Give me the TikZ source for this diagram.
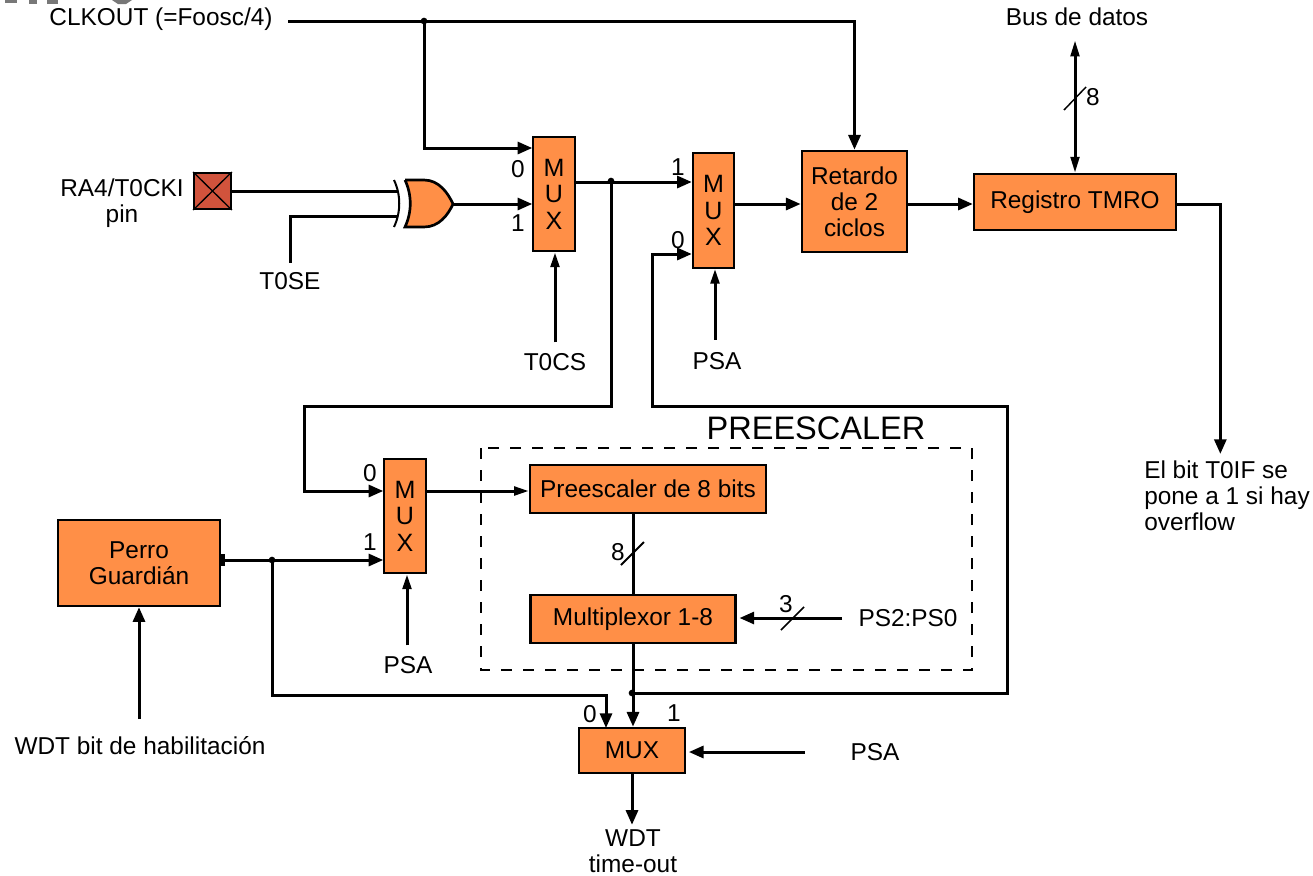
\documentclass[tikz,border=0pt]{standalone}
\usepackage{fontspec}
\setmainfont{Liberation Sans}
\usepackage{xcolor}
\usetikzlibrary{arrows.meta,positioning}
\definecolor{boxorange}{RGB}{255,143,71}
\definecolor{pinred}{RGB}{209,83,60}
\definecolor{headgray}{RGB}{120,120,120}

\begin{document}
\begin{tikzpicture}[
 x=0.75pt,y=-0.75pt,
 every node/.style={font=\fontsize{18.3}{19.5}\selectfont,align=center},
 block/.style={draw=black,fill=boxorange,line width=1.8pt,inner sep=0pt},
 muxv/.style={block,line width=1.6pt,minimum width=31pt,minimum height=86pt,font=\fontsize{18.8}{19.8}\selectfont},
 txt/.style={inner sep=3.33pt},
 dot/.style={circle,fill=black,inner sep=0pt,minimum size=5pt},
 wire/.style={line width=2.25pt},
 arrow/.style={wire,-{Triangle[length=11pt,width=9pt]}},
 narrow/.style={wire,-{Triangle[length=11pt,width=6.5pt]}},
 slash/.style={line width=1.1pt}
]
\useasboundingbox (0,0) rectangle (1313,875);
\fill[headgray] (5,0) rectangle (17,3);
\fill[headgray] (29,0) rectangle (37,4);
\fill[headgray] (47,0) rectangle (58,4);
\fill[headgray] (112,0) -- (132,0) -- (126,4) -- (118,4) -- cycle;

\draw[line width=1.9pt,dash pattern=on 8pt off 8.5pt] (481,448) rectangle (972,670);

\node[txt] (clkout) at (161,19) {CLKOUT (=Foosc/4)};
\node[txt] (ra4) at (122,203) {RA4/T0CKI\\pin};
\node[txt,outer sep=4pt] (t0se) at (290,281) {T0SE};
\node[txt,outer sep=5pt] (t0cs) at (555,362) {T0CS};
\node[txt,outer sep=6pt] (psaa) at (717,361) {PSA};
\node[txt,outer sep=5pt] (psab) at (408,665) {PSA};
\node[txt,outer sep=31pt] (psac) at (875,752) {PSA};
\node[txt,outer sep=7.5pt] (bus) at (1077,17) {Bus de datos};
\node[txt,align=left,outer sep=2pt] (t0if) at (1227,496) {El bit T0IF se\\pone a 1 si hay\\overflow};
\node[txt,outer sep=9pt] (ps2) at (908,618) {PS2:PS0};
\node[txt,outer sep=10pt] (wdten) at (140,746) {WDT bit de habilitación};
\node[txt] (wdtout) at (633,851) {WDT\\time-out};
\node[txt,font=\fontsize{24.4}{26}\selectfont] (prescaler) at (816,428) {PREESCALER};

\node[muxv] (muxa) at (554,194) {M\\U\\X};
\node[muxv] (muxb) at (713.5,210.5) {M\\U\\X};
\node[muxv] (muxc) at (405,516) {M\\U\\X};
\node[block,minimum width=79pt,minimum height=76pt] (retardo) at (854.5,201.5) {Retardo\\de 2\\ciclos};
\node[block,minimum width=151.5pt,minimum height=42pt] (tmro) at (1075,202) {Registro TMRO};
\node[block,minimum width=177pt,minimum height=36pt] (prees) at (648,489) {Preescaler de 8 bits};
\node[block,minimum width=154pt,minimum height=36pt] (multi) at (633,619) {Multiplexor 1-8};
\node[block,minimum width=121.5pt,minimum height=64.5pt] (perro) at (139,563) {Perro\\Guardián};
\node[block,minimum width=79.5pt,minimum height=34pt] (muxd) at (632,750.5) {MUX};
\node[draw=black,fill=pinred,line width=1.5pt,inner sep=0pt,minimum width=27.5pt,minimum height=27pt] (pin) at (212.5,191) {};
\draw[line width=1pt] (pin.north west) -- (pin.south east) (pin.north east) -- (pin.south west);

\node[txt] (ceroa) at (518,169) {0};
\node[txt] (unoa) at (518,223) {1};
\node[txt] (unob) at (678,167) {1};
\node[txt] (cerob) at (678,240) {0};
\node[txt] (ceroc) at (370,473) {0};
\node[txt] (unoc) at (370,542) {1};
\node[txt] (cerod) at (590,714) {0};
\node[txt] (unod) at (674,713) {1};
\node[txt] (ochoa) at (1093,97) {8};
\node[txt] (ochob) at (618,552) {8};
\node[txt] (tres) at (786,604) {3};

\draw[line width=2pt,fill=boxorange] (405,180) -- (424,180) .. controls (439,180) and (448,193) .. (453,204) .. controls (448,215) and (439,227) .. (424,227) -- (405,227) .. controls (412,212) and (412,195) .. (405,180);
\draw[line width=1.5pt] (394,180) .. controls (401,195) and (401,212) .. (394,227);
\coordinate (xorina) at (398,191);
\coordinate (xorinb) at (398,216);
\coordinate (xorout) at (453,204);
\coordinate (clkstart) at (288,21);

\node[dot] (dotclk) at (424,21) {};
\node[dot] (dotmux) at (611,181) {};
\node[dot] (dotwdt) at (272,560) {};
\node[dot] (dotpre) at (632,693) {};

\draw[arrow] (clkstart) -| (retardo.north);
\draw[arrow] (dotclk.center) |- (muxa.west |- 0,148);
\draw[wire] (pin.east) -- (xorina);
\draw[wire] (t0se.north) |- (xorinb);
\draw[arrow] (xorout) -- (xorout -| muxa.west);
\draw[narrow] (t0cs.north -| 555,0) -- (555,0 |- muxa.south);
\draw[arrow] (muxa.east |- 0,182) -- (muxb.west |- 0,182);
\draw[narrow] (psaa.north -| 715,0) -- (715,0 |- muxb.south);
\draw[arrow] (muxb.east |- 0,204) -- (retardo.west |- 0,204);
\draw[arrow] (retardo.east |- 0,204) -- (tmro.west |- 0,204);
\draw[wire,{Triangle[length=12pt,width=6.5pt]}-{Triangle[length=12pt,width=6.5pt]}] (bus.south -| tmro.north) -- (tmro.north);
\draw[arrow] (tmro.east |- 0,204) -| ([xshift=-5pt]t0if.north);

\draw[arrow] (dotmux.center) -- (611,406) -- (304,406) |- (muxc.west |- 0,491);
\draw[narrow] (muxc.east |- 0,491) -- (prees.west |- 0,491);
\draw[arrow] (dotpre.center) -- (1007,693) -- (1007,406) -- (652,406) |- (muxb.west |- 0,254);
\draw[wire] (multi.north |- prees.south) -- (multi.north);
\draw[arrow,shorten >=2pt] (ps2.west) -- (multi.east |- ps2.west);
\draw[arrow] (multi.south) -- (muxd.north -| multi.south);
\draw[narrow] (psab.north -| 407,0) -- (407,0 |- muxc.south);
\draw[arrow] (dotwdt.center) -- (muxc.west |- dotwdt);
\draw[wire,-{Rectangle[length=3pt,width=9pt]}] (dotwdt.center) -- (perro.east |- dotwdt);
\draw[arrow] (dotwdt.center) |- (606,695) -- (606,728);
\draw[arrow] (wdten.north -| perro.south) -- (perro.south);
\draw[arrow,shorten >=2pt] (psac.west) -- (muxd.east |- psac.west);
\draw[arrow] (muxd.south) -- (wdtout.north -| muxd.south);

\draw[slash] (1064,110) -- (1086,87);
\draw[slash,line width=1.5pt] (621,565) -- (644,542);
\draw[slash] (781,630) -- (804,607);
\end{tikzpicture}
\end{document}
